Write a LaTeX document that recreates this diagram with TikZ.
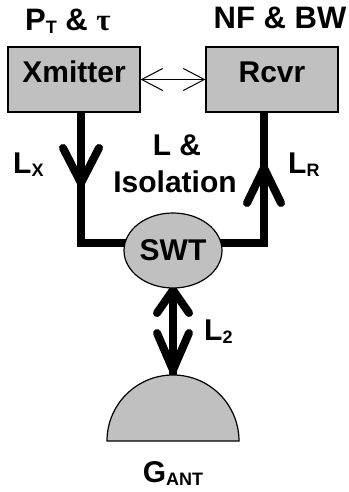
\documentclass[tikz,border=0pt]{standalone}
\usepackage{fontspec}
\setmainfont{Liberation Sans}
\newfontfamily\taufont{Liberation Serif}
\usetikzlibrary{shapes.geometric,arrows.meta,backgrounds}
\definecolor{boxgray}{HTML}{C0C0C0}
\newcommand{\sbs}[1]{\raisebox{-3pt}{\fontsize{18}{18}\selectfont #1}}
\begin{document}
\begin{tikzpicture}[x=1pt,y=-1pt,
  mainfont/.style={font=\fontsize{30}{34}\selectfont\bfseries},
  topfont/.style={font=\fontsize{31}{34}\selectfont\bfseries},
  lbl/.style={anchor=base,inner sep=0pt},
  lblw/.style={anchor=base west,inner sep=0pt},
  unitbox/.style={draw=black,line width=1.2pt,fill=boxgray,rectangle,
    inner sep=0pt,minimum width=132pt,text height=36pt,text depth=29pt,anchor=base,mainfont},
  swtnode/.style={draw=black,line width=1.2pt,fill=boxgray,ellipse,
    inner sep=0pt,minimum width=98pt,minimum height=75pt,mainfont},
  wire/.style={line width=8pt,line cap=butt,line join=miter},
  vhead/.style={line width=8pt,line cap=round,line join=round},
  thinarrow/.style={line width=1pt,
    {Straight Barb[length=21pt,width=22pt]}-{Straight Barb[length=21pt,width=22pt]}}
]
\useasboundingbox (0,0) rectangle (348,492);

% blocks
\node[unitbox] (xm) at (74,83) {Xmitter};
\node[unitbox] (rc) at (272,83) {Rcvr};
\node[swtnode] (swt) at (173,250.5) {SWT};

% antenna dome
\draw[line width=1.2pt,fill=boxgray] (107,441) arc[start angle=180,end angle=0,radius=66pt] -- cycle;
\coordinate (dome) at (173,375);

% wire columns
\coordinate (lx) at (81,0);
\coordinate (rx) at (264,0);

\begin{scope}[on background layer]
  \draw[wire] (xm.south -| lx) |- ([yshift=7.5pt]swt.center);
  \draw[wire] (rc.south -| rx) |- ([yshift=7.5pt]swt.center);
  \draw[wire] (swt.center) -- (dome);
  % direction heads
  \draw[vhead] (63,148) -- (81,183) -- (99,148);
  \draw[vhead] (247,203) -- (264,168) -- (281,203);
  \draw[vhead] (157,313) -- (173,290) -- (189,313);
  \draw[vhead] (157,333) -- (173,370) -- (189,333);
\end{scope}

% thin double arrow
\draw[thinarrow] (xm.east) -- (rc.west);

% labels
\node[lbl,topfont] (pt) at (68,31) {P\sbs{T} \& {\taufont\bfseries τ}};
\node[lbl,topfont] (nf) at (280,29) {NF \& BW};
\node[lbl,mainfont] (la) at (177,155) {L \&};
\node[lbl,mainfont] (iso) at (175,192) {Isolation};
\node[lblw,mainfont] (lxl) at (13,173) {L\sbs{X}};
\node[lblw,mainfont] (lrl) at (288,173) {L\sbs{R}};
\node[lblw,mainfont] (l2l) at (204,340) {L\sbs{2}};
\node[lbl,mainfont] (gant) at (173,482) {G\sbs{ANT}};
\end{tikzpicture}
\end{document}
